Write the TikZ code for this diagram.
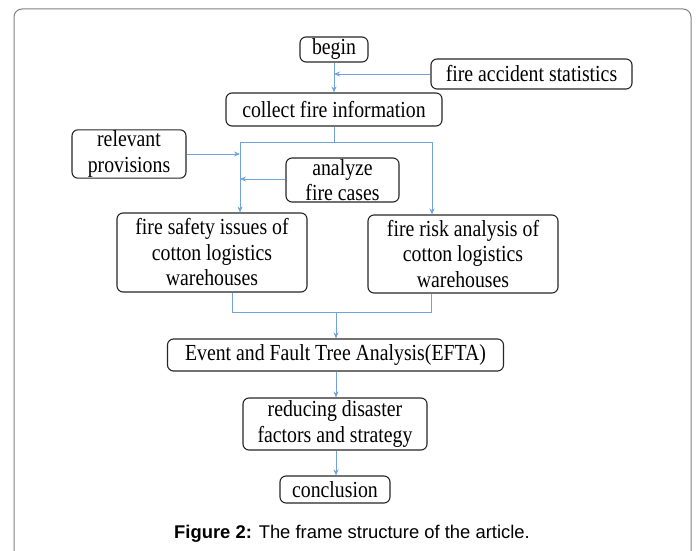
\documentclass[tikz,border=0pt]{standalone}
\usepackage{fontspec}
\setmainfont{Liberation Serif}[FakeStretch=0.86]
\newfontfamily\capfont{Liberation Sans}
\usetikzlibrary{arrows.meta, positioning, calc}
\definecolor{flowblue}{HTML}{6FA3DA}
\definecolor{framegray}{HTML}{808080}
\tikzset{
  stepbox/.style={
    rectangle, draw=black!85, fill=white, line width=1.1pt, rounded corners=6pt,
    align=center, font=\fontsize{23}{25.5}\selectfont, inner sep=1pt,
  },
  flow/.style={
    draw=flowblue, line width=0.8pt,
  },
  arrow/.style={
    flow, -{Stealth[length=6pt, width=5pt]},
  },
  caption/.style={
    font=\capfont\fontsize{18.4}{22}\selectfont,
  }
}
\begin{document}
\begin{tikzpicture}[x=1pt, y=-1pt]

  \useasboundingbox (0,0) rectangle (697,551);
  \draw[framegray, line width=1pt, rounded corners=8pt] (14,551) -- (14,9) -- (691,9) -- (691,551);

  \node[stepbox, minimum width=68pt, minimum height=25pt] (begin) at (334,49.5) {begin};
  \node[stepbox, minimum width=201pt, minimum height=30pt] (stats) at (531.5,74) {fire accident statistics};
  \node[stepbox, minimum width=216pt, minimum height=33pt] (collect) at (334,109.5) {collect fire information};
  \node[stepbox, minimum width=114pt, minimum height=46pt] (prov) at (129,154) {relevant\\provisions};
  \node[stepbox, minimum width=113pt, minimum height=44pt] (cases) at (342.5,180) {analyze\\fire cases};
  \node[stepbox, minimum width=190pt, minimum height=79pt] (safety) at (212,252.5)
    {fire safety issues of\\cotton logistics\\warehouses};
  \node[stepbox, minimum width=190pt, minimum height=78pt] (risk) at (463,254)
    {fire risk analysis of\\cotton logistics\\warehouses};
  \node[stepbox, minimum width=336pt, minimum height=32pt] (efta) at (335.5,355)
    {Event and Fault Tree Analysis(EFTA)};
  \node[stepbox, minimum width=184pt, minimum height=52pt] (reduce) at (335,424)
    {reducing disaster\\factors and strategy};
  \node[stepbox, minimum width=110pt, minimum height=27pt] (concl) at (335,489.5) {conclusion};

  \node[caption, anchor=base] (cap) at (352,538)
    {\textbf{Figure 2:} The frame structure of the article.};

  % top part
  \draw[arrow] (begin) -- (collect);
  \draw[arrow] (stats.west) -- (begin.south |- stats.west);

  \coordinate (split) at ($(collect.south)+(0,16)$);
  \coordinate (splitl) at (240,142);
  \coordinate (splitr) at (432,142);
  \draw[flow] (collect.south) -- (split);
  \draw[flow] (splitl) -- (splitr);
  \draw[arrow] (splitl) -- (splitl |- safety.north);
  \draw[arrow] (splitr) -- (splitr |- risk.north);
  \draw[arrow] (prov.east |- 0,154) -- (splitl |- 0,154);
  \draw[arrow] (cases.west |- 0,179) -- (splitl |- 0,179);

  % merge
  \coordinate (joinl) at (232,312);
  \coordinate (joinr) at (431,312);
  \coordinate (join) at (336,312);
  \draw[flow] (joinl |- safety.south) -- (joinl) -- (joinr) -- (joinr |- risk.south);
  \draw[arrow] (join) -- (join |- efta.north);

  % bottom part
  \draw[arrow] (join |- efta.south) -- (join |- reduce.north);
  \draw[arrow] (join |- reduce.south) -- (join |- concl.north);

\end{tikzpicture}
\end{document}
